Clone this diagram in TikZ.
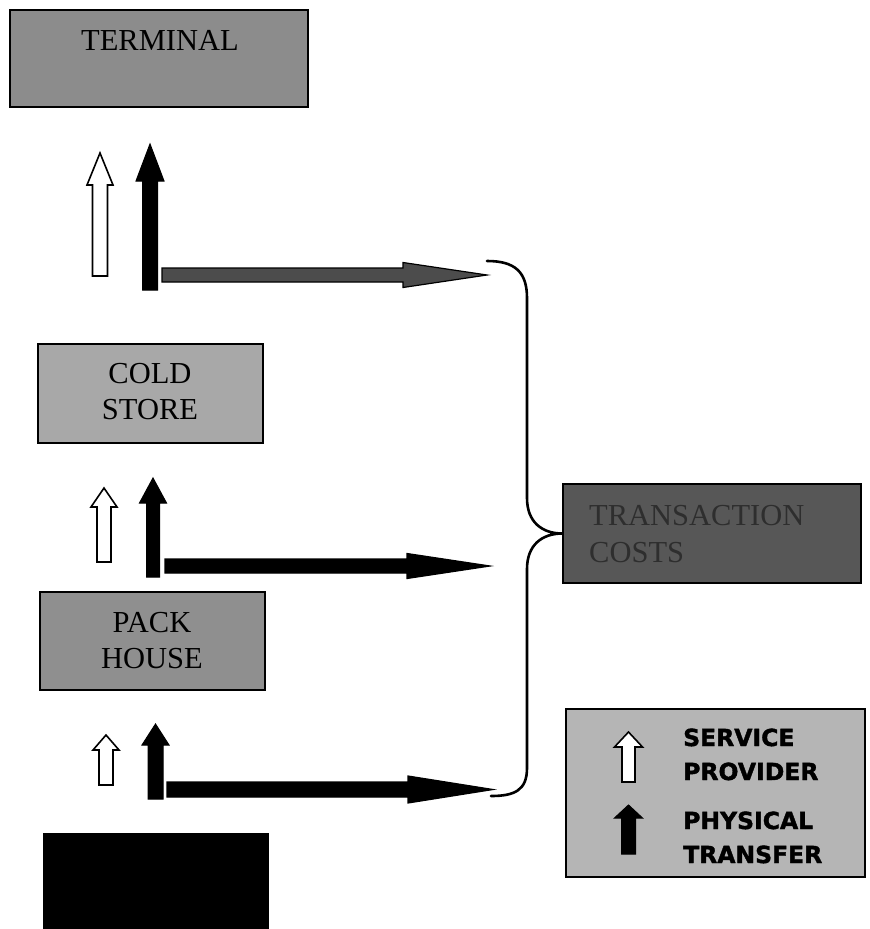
\documentclass[tikz,border=0pt]{standalone}
\usepackage{fontspec}
\setmainfont{Liberation Serif}
\newfontfamily\legendfont{DejaVu Sans}[BoldFeatures={FakeBold=1.6}]
\definecolor{termgray}{gray}{0.55}
\definecolor{coldgray}{gray}{0.66}
\definecolor{packgray}{gray}{0.56}
\definecolor{costgray}{gray}{0.34}
\definecolor{costtext}{gray}{0.18}
\definecolor{keygray}{gray}{0.71}
\definecolor{flowgray}{gray}{0.30}

% upward block arrow: [style]{centre x}{shaft width}{head width}{tip y}{head base y}{bottom y}
\newcommand\blockup[7][]{%
  \draw[#1] ({#2-#3/2},#7) -- ({#2+#3/2},#7) -- ({#2+#3/2},#6) -- ({#2+#4/2},#6)
    -- (#2,#5) -- ({#2-#4/2},#6) -- ({#2-#3/2},#6) -- cycle;}
% rightward block arrow: [style]{centre y}{shaft height}{head height}{start x}{head base x}{tip x}
\newcommand\blockright[7][]{%
  \draw[#1] (#5,{#2-#3/2}) -- (#6,{#2-#3/2}) -- (#6,{#2-#4/2}) -- (#7,#2)
    -- (#6,{#2+#4/2}) -- (#6,{#2+#3/2}) -- (#5,{#2+#3/2}) -- cycle;}

\tikzset{
  stagebox/.style={draw=black, line width=1.5pt, minimum width=225pt, minimum height=98pt, inner sep=0pt},
  stagetext/.style={font=\fontsize{30.5}{36}\selectfont, align=center, inner sep=0pt},
  keytext/.style={font=\legendfont\bfseries\fontsize{23.5}{34}\selectfont, align=left, inner sep=0pt, anchor=base west},
  hollow/.style={draw=black, line width=1.6pt, fill=white, line join=miter},
  solid/.style={draw=black, line width=1pt, fill=black, line join=miter},
  flow/.style={draw=black, line width=1.2pt, fill=black, line join=miter},
}

\begin{document}
\begin{tikzpicture}[x=1pt,y=-1pt]
\useasboundingbox (0,0) rectangle (870,929);
\fill[white] (0,0) rectangle (870,929);

% chain of stages
\node[stagebox, fill=termgray, minimum width=298pt, minimum height=97pt] (terminal) at (159,58.5) {};
\node[stagetext, anchor=base] (terminal-label) at (160,50) {TERMINAL};

\node[stagebox, fill=coldgray, minimum height=99pt] (cold) at (150.5,393.5) {};
\node[stagetext] (cold-label) at (150,392) {COLD\\STORE};

\node[stagebox, fill=packgray] (pack) at (152.5,641) {};
\node[stagetext] (pack-label) at (152,641) {PACK\\HOUSE};

\node[draw=black, line width=1pt, fill=black, anchor=north west, minimum width=225pt, minimum height=100pt, inner sep=0pt] (farm) at (43,833) {};

% transaction costs box
\node[draw=black, line width=1.5pt, fill=costgray, minimum width=298pt, minimum height=99pt, inner sep=0pt] (costs) at (712,533.5) {};
\node[font=\fontsize{30.5}{37}\selectfont, text=costtext, align=left, anchor=base west, inner sep=0pt] (costs-label) at (589,562) {TRANSACTION\\COSTS};

% legend
\node[draw=black, line width=1.5pt, fill=keygray, minimum width=299pt, minimum height=168pt, inner sep=0pt] (key) at (715.5,793) {};
\blockup[hollow]{628.5}{13}{28}{732}{747}{782}
\blockup[solid]{628.5}{14}{28}{805}{818}{854}
\node[keytext] (key-service) at (683,780) {SERVICE\\PROVIDER};
\node[keytext] (key-physical) at (683,863) {PHYSICAL\\TRANSFER};

% transfers between stages
\blockup[hollow]{100}{15}{26}{153}{185}{276}
\blockup[solid]{150}{15}{28}{144}{181}{290}
\blockright[flow, fill=flowgray]{275}{14}{25}{162}{403}{487}

\blockup[hollow]{104}{14}{26}{488}{507}{562}
\blockup[solid]{153}{13}{27}{478}{503}{577}
\blockright[flow]{566}{14}{25}{165}{407}{490}

\blockup[hollow]{106}{14}{26}{735}{750}{785}
\blockup[solid]{155.5}{15}{27}{724}{745}{799}
\blockright[flow]{789.5}{15}{27}{167}{408}{493}

% brace gathering the three transfers into the costs box
\coordinate (brace-top) at (487,261);
\coordinate (brace-bot) at (491,796);
\draw[line width=2.6pt, line cap=round]
  (brace-top) .. controls (515,261) and (527,272) .. (527,298)
  -- (527,498) .. controls (527,522) and (542,533.5) .. (costs.west)
  .. controls (542,533.5) and (527,545) .. (527,569)
  -- (527,768) .. controls (527,790) and (515,796) .. (brace-bot);
\end{tikzpicture}
\end{document}
